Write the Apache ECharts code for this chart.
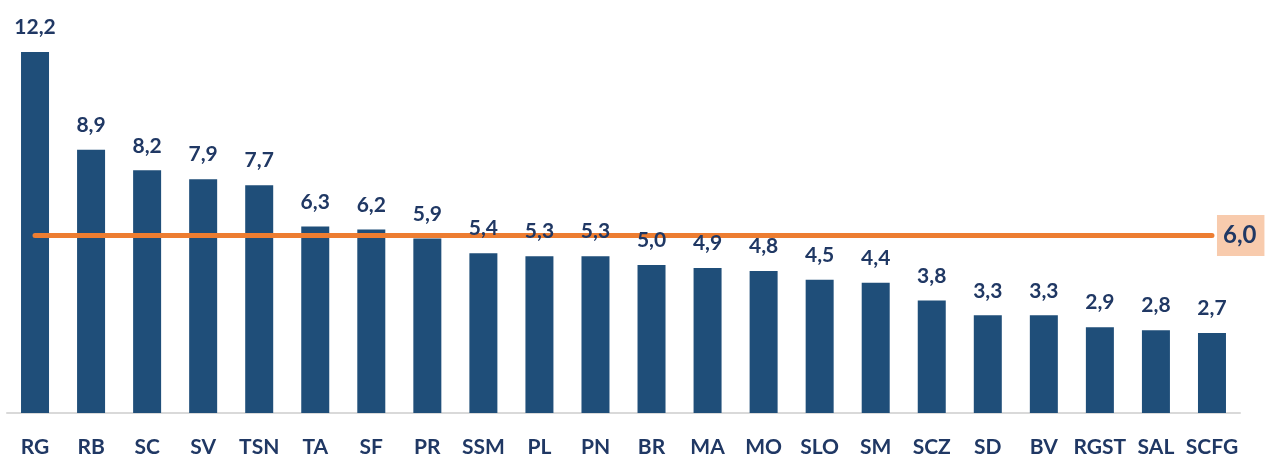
<!DOCTYPE html>
<html><head><meta charset="utf-8">
<script src="https://cdn.jsdelivr.net/npm/echarts@6/dist/echarts.min.js"></script>
<style>html,body{margin:0;padding:0;background:#fff}#c{width:1265px;height:456px}</style>
</head><body><div id="c"></div>
<script>
var categories = ["RG","RB","SC","SV","TSN","TA","SF","PR","SSM","PL","PN","BR","MA","MO","SLO","SM","SCZ","SD","BV","RGST","SAL","SCFG"];
var values = [12.2,8.9,8.2,7.9,7.7,6.3,6.2,5.9,5.4,5.3,5.3,5.0,4.9,4.8,4.5,4.4,3.8,3.3,3.3,2.9,2.8,2.7];
var averageValue = 6.0;
var averageLine = categories.map(function(){ return averageValue; });

var fmt = function(v){ return v.toFixed(1).replace('.', ','); };
var chart = echarts.init(document.getElementById('c'), null, {renderer:'canvas'});
var textColor = '#203864';
var font = 'Lato';
chart.setOption({
  animation:false,
  grid:{left:7, right:25, top:28.3, bottom:43, containLabel:false, outerBoundsMode:'none'},
  xAxis:{type:'category', data:categories, boundaryGap:true,
    axisLine:{lineStyle:{color:'#d9d9d9', width:2}}, axisTick:{show:false},
    axisLabel:{interval:0, color:textColor, fontFamily:font, fontWeight:'bold', fontSize:21, margin:24}},
  yAxis:{type:'value', min:0, max:13, show:false, splitLine:{show:false}},
  series:[
    {type:'bar', z:2, data:values, barWidth:28, itemStyle:{color:'#1f4e79'}},
    {type:'line', z:3, data:averageLine, symbol:'none', lineStyle:{color:'#ed7d31', width:5, cap:'round'},
      endLabel:{show:true, formatter:function(p){return fmt(p.value);}, color:textColor, fontFamily:font, fontWeight:'bold', fontSize:24,
        backgroundColor:'#f8cbad', padding:[9,8,8,6], distance:5}},
    {type:'bar', z:4, data:values, barWidth:28, barGap:'-100%', itemStyle:{color:'rgba(0,0,0,0)'}, silent:true,
      label:{show:true, position:'top', distance:14, color:textColor, fontFamily:font, fontWeight:'bold', fontSize:21,
        formatter:function(p){return fmt(p.value);}}}
  ]
});
</script></body></html>
